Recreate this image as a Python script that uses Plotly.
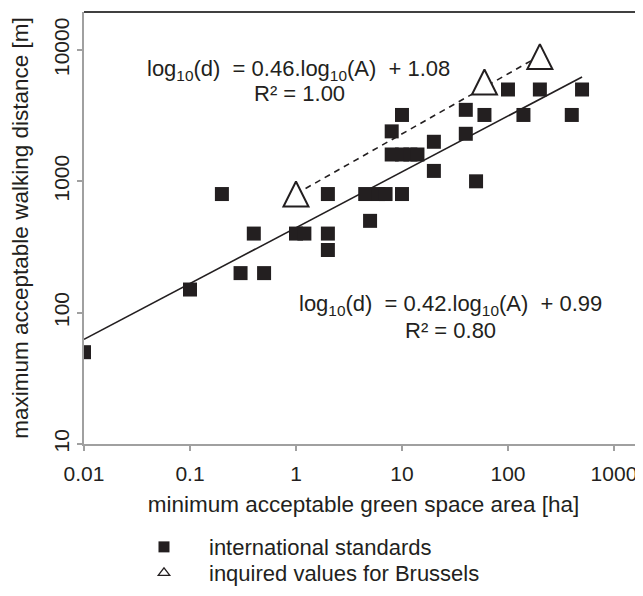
import numpy as np
import plotly.graph_objects as go

# international standards: area [ha], distance [m]
std_area = [0.01, 0.1, 0.2, 0.3, 0.4, 0.5, 1, 1.2, 2, 2, 2, 4.5, 6, 7, 10, 5,
            8, 10, 12, 14, 8, 10, 20, 20, 40, 40, 50, 60, 100, 140, 200, 400, 500]
std_dist = [50, 150, 800, 200, 400, 200, 400, 400, 800, 400, 300, 800, 800, 800, 800, 500,
            1600, 1600, 1600, 1600, 2400, 3200, 2000, 1200, 3500, 2300, 1000, 3200, 5000, 3200, 5000, 3200, 5000]

# inquired values for Brussels
bru_area = [1, 60, 200]
bru_dist = [800, 5700, 8900]

# fitted lines (log10 d = slope * log10 A + intercept, distances in m)
std_fit_slope, std_fit_icpt = 0.425, 2.647
bru_fit_slope, bru_fit_icpt = 0.457, 2.904

eq_std = ["log<sub>10</sub>(d)  = 0.42.log<sub>10</sub>(A)  + 0.99", "R² = 0.80"]
eq_bru = ["log<sub>10</sub>(d)  = 0.46.log<sub>10</sub>(A)  + 1.08", "R² = 1.00"]

ink = "#231f20"
font = "Liberation Sans, Arial, sans-serif"
tri_size = 25

fig = go.Figure()

xs = np.array([min(std_area), max(std_area)])
fig.add_trace(go.Scatter(x=xs, y=10 ** (std_fit_slope * np.log10(xs) + std_fit_icpt),
                         mode="lines", line=dict(color=ink, width=1.6), showlegend=False, hoverinfo="skip"))
xb = np.array([min(bru_area), max(bru_area)])
fig.add_trace(go.Scatter(x=xb, y=10 ** (bru_fit_slope * np.log10(xb) + bru_fit_icpt),
                         mode="lines", line=dict(color=ink, width=1.6, dash="6px,5px"), showlegend=False, hoverinfo="skip"))

fig.add_trace(go.Scatter(x=std_area, y=std_dist, mode="markers",
                         marker=dict(symbol="square", size=14, color=ink, line=dict(width=0)),
                         showlegend=False))
fig.add_trace(go.Scatter(x=bru_area, y=bru_dist, mode="markers",
                         marker=dict(symbol="arrow-down", angle=180, standoff=tri_size / 2, size=tri_size,
                                     color="white", line=dict(color=ink, width=2)),
                         showlegend=False))

# legend entries
fig.add_trace(go.Scatter(x=[None], y=[None], mode="markers", name="international standards",
                         marker=dict(symbol="square", size=11, color=ink), legend="legend"))
fig.add_trace(go.Scatter(x=[None], y=[None], mode="markers", name="inquired values for Brussels",
                         marker=dict(symbol="triangle-up", size=10, color="white", line=dict(color=ink, width=1.3)),
                         legend="legend2"))

eq_font = dict(family=font, size=22, color=ink)
for txt, xv, yv in [(eq_bru[0], 1.06, 7050), (eq_bru[1], 1.09, 4630),
                    (eq_std[0], 29, 115), (eq_std[1], 29, 72.6)]:
    fig.add_annotation(x=np.log10(xv), y=np.log10(yv), xref="x", yref="y", text=txt,
                       showarrow=False, font=eq_font, xanchor="center", yanchor="middle")

# top border
fig.add_shape(type="line", xref="paper", yref="paper", x0=0, x1=1, y0=1, y1=1,
              line=dict(color="#404040", width=2))

leg_common = dict(xanchor="left", yanchor="top", font=dict(size=22),
                  bgcolor="rgba(0,0,0,0)", itemwidth=80)

fig.update_layout(
    width=635, height=588,
    margin=dict(l=76, r=0, t=4, b=152, autoexpand=False),
    paper_bgcolor="white", plot_bgcolor="white",
    font=dict(family=font, size=21, color=ink),
    xaxis=dict(type="log", range=[-2, 3.274], tickvals=[0.01, 0.1, 1, 10, 100, 1000],
               ticktext=["0.01", "0.1", "1", "10", "100", "1000"], automargin=False,
               showgrid=False, zeroline=False, showline=True, linecolor="#a0a0a0", linewidth=2,
               ticks="outside", ticklen=5, tickcolor="#a0a0a0", tickwidth=1.5,
               tickfont=dict(size=21), ticklabelstandoff=5,
               title=dict(text="minimum acceptable green space area [ha]", font=dict(size=22.5), standoff=12)),
    yaxis=dict(type="log", range=[1, 4.289], tickvals=[10, 100, 1000, 10000],
               ticktext=["10", "100", "1000", "10000"], tickangle=-90, automargin=False,
               showgrid=False, zeroline=False, showline=True, linecolor="#a0a0a0", linewidth=2,
               ticks="outside", ticklen=5, tickcolor="#a0a0a0", tickwidth=1.5,
               tickfont=dict(size=21), ticklabelstandoff=0,
               title=dict(text="maximum acceptable walking distance [m]", font=dict(size=22.5), standoff=24)),
    legend=dict(x=0.0626, y=-0.190, **leg_common),
    legend2=dict(x=0.0626, y=-0.250, **leg_common),
)

fig.write_html("out.html")
